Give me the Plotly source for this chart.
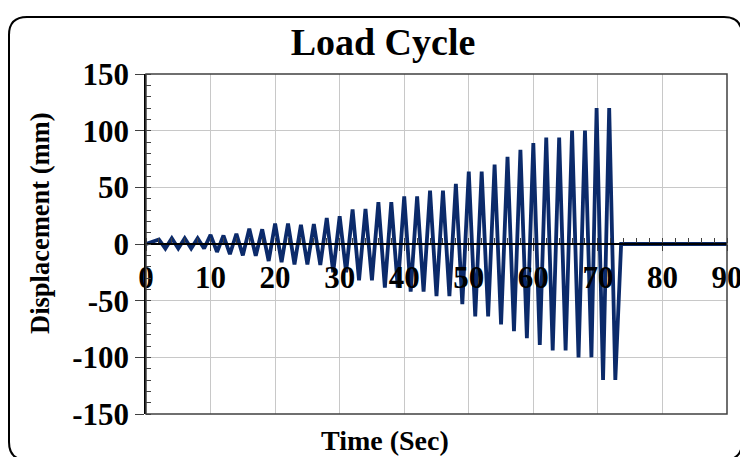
import plotly.graph_objects as go

# ---- data ----
start_time = [0]
start_disp = [0]
peak_times = [2, 4, 6, 8, 10, 12, 14, 16, 18, 20, 22, 24, 26, 28, 30, 32, 34, 36,
              38, 40, 42, 44, 46, 48, 50, 52, 54, 56, 58, 60, 62, 64, 66, 68, 69.8, 71.75]
peak_disp = [4, 5, 5, 5, 8, 7.5, 9, 13.5, 13, 18, 18, 17, 17.5, 23, 24.5, 30.5, 31, 37,
             37, 42, 42, 47, 47, 53, 64, 64, 70, 77, 83, 89, 94, 94, 100, 100, 120, 120]
trough_times = [3, 5, 7, 9, 11, 13, 15, 17, 19, 21, 23, 25, 27, 29, 31, 33, 35, 37,
                39, 41, 43, 45, 47, 49, 51, 53, 55, 57, 59, 61, 63, 65, 67, 69, 70.8, 72.7]
trough_disp = [-4, -4, -4, -4, -7, -9, -10, -10.5, -15, -16, -18, -18, -18.5, -25, -25, -32, -32, -38.5,
               -38.5, -42, -42, -46, -46, -53, -64, -64, -71, -77, -83, -89, -94, -94, -100, -100, -120, -120]
end_time = [73.6, 90]
end_disp = [0, 0]

x_ticks = [0, 10, 20, 30, 40, 50, 60, 70, 80, 90]
x_tick_labels = ["0", "10", "20", "30", "40", "50", "60", "70", "80", "90"]
y_ticks = [-150, -100, -50, 0, 50, 100, 150]
y_tick_labels = ["-150", "-100", "-50", "0", "50", "100", "150"]

time = list(start_time)
disp = list(start_disp)
for pt, pd, tt, td in zip(peak_times, peak_disp, trough_times, trough_disp):
    time += [pt, tt]
    disp += [pd, td]
time += end_time
disp += end_disp

# ---- figure geometry (screen pixels; page body has an 8px margin) ----
OFF = 8
W, H = 748, 457 - OFF
PL, PR, PT, PB = 146, 727, 74, 414          # plot area on screen
ML, MR, MT, MB = PL - OFF, W - (PR - OFF), PT - OFF, H - (PB - OFF)
PW, PH = W - ML - MR, H - MT - MB


def px_x(px):
    return (px - OFF - ML) / PW


def px_y(py):
    return (H - MB - (py - OFF)) / PH


FONT = "Liberation Serif"
LINE = "#0b2a6a"
TICKC = "#404040"
GRID = "#c8c8c8"

fig = go.Figure()
fig.add_trace(go.Scatter(x=time, y=disp, mode="lines",
                         line=dict(color=LINE, width=3.8), showlegend=False,
                         hoverinfo="skip"))

tickfont = dict(family=FONT, size=31, color="black", weight="bold")

fig.update_layout(
    width=W, height=H,
    margin=dict(l=ML, r=MR, t=MT, b=MB, autoexpand=False),
    paper_bgcolor="white", plot_bgcolor="white",
    title=dict(text="Load Cycle", x=(383 - OFF) / W, y=1 - (42 - OFF) / H,
               xref="container", yref="container",
               xanchor="center", yanchor="middle",
               font=dict(family=FONT, size=38, color="black", weight="bold")),
    xaxis=dict(range=[0, 90], tickvals=x_ticks, ticktext=x_tick_labels,
               showgrid=True, gridcolor=GRID, gridwidth=1.3,
               showline=True, linecolor="black", linewidth=1.5, zeroline=False,
               anchor="free", position=0.5, automargin=False,
               ticks="outside", ticklen=6, tickwidth=1.3, tickcolor=TICKC,
               minor=dict(dtick=2, tick0=0, ticks="inside", ticklen=5, tickwidth=1.2,
                          tickcolor=TICKC, showgrid=False),
               tickfont=tickfont),
    yaxis=dict(range=[-150, 150], tickvals=y_ticks, ticktext=y_tick_labels,
               showgrid=True, gridcolor=GRID, gridwidth=1.3,
               showline=True, linecolor="black", linewidth=1.5, zeroline=False,
               automargin=False,
               ticks="outside", ticklen=9, tickwidth=1.3, tickcolor=TICKC,
               minor=dict(dtick=10, tick0=0, ticks="inside", ticklen=5, tickwidth=1.2,
                          tickcolor=TICKC, showgrid=False),
               tickfont=tickfont),
)

# plot-area border
fig.add_shape(type="rect", xref="x domain", yref="y domain", x0=0, x1=1, y0=0, y1=1,
              line=dict(color=TICKC, width=1.5), layer="above")

# rounded outer chart frame
L, R, T, B, RAD = 8, 742, 17, 460, 18
x0, x1 = px_x(L + 1), px_x(R)
y0, y1 = px_y(B), px_y(T)
rx, ry = RAD / PW, RAD / PH
path = (f"M {x0 + rx},{y1} L {x1 - rx},{y1} Q {x1},{y1} {x1},{y1 - ry} "
        f"L {x1},{y0 + ry} Q {x1},{y0} {x1 - rx},{y0} "
        f"L {x0 + rx},{y0} Q {x0},{y0} {x0},{y0 + ry} "
        f"L {x0},{y1 - ry} Q {x0},{y1} {x0 + rx},{y1} Z")
fig.add_shape(type="path", xref="paper", yref="paper", path=path,
              line=dict(color="black", width=2), fillcolor="rgba(0,0,0,0)")

fig.add_annotation(text="Displacement (mm)", textangle=-90, xref="paper", yref="paper",
                   x=px_x(40), y=px_y(223), xanchor="center", yanchor="middle",
                   showarrow=False,
                   font=dict(family=FONT, size=26.5, color="black", weight="bold"))
fig.add_annotation(text="Time (Sec)", xref="paper", yref="paper",
                   x=px_x(385), y=px_y(440), xanchor="center", yanchor="middle",
                   showarrow=False,
                   font=dict(family=FONT, size=28, color="black", weight="bold"))

fig.write_html("out.html")
